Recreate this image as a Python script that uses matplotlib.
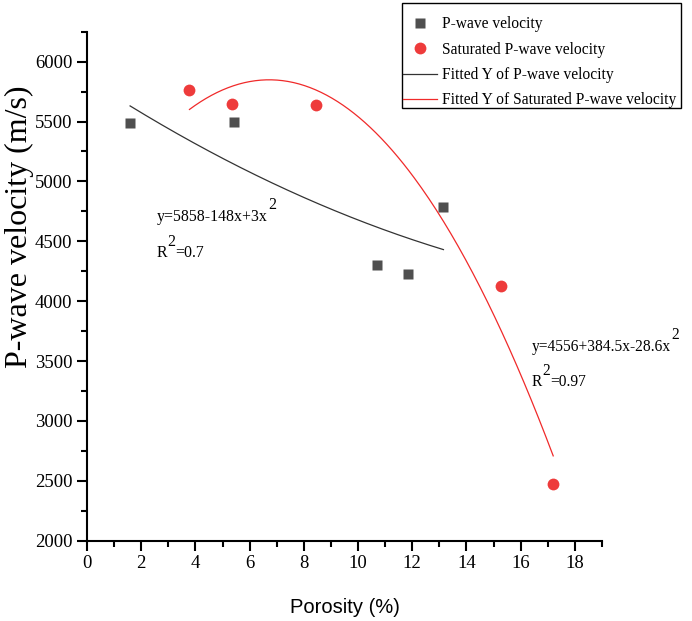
import matplotlib.pyplot as plt
from matplotlib import font_manager
from matplotlib.patches import Rectangle
import numpy as np

plt.rcParams['font.family'] = ['Liberation Serif', 'DejaVu Serif']

# measured points (porosity %, velocity m/s)
dry_x = [1.59, 5.42, 10.71, 11.83, 13.15]
dry_v = [5490, 5500, 4305, 4230, 4790]
sat_x = [3.78, 5.34, 8.44, 15.26, 17.2]
sat_v = [5760, 5650, 5640, 4125, 2475]

# fitted quadratic coefficients shown on the chart (c0, c1, c2)
dry_fit = [5858, -148, 3]
sat_fit = [4556, 384.5, -28.6]

labels = ["P-wave velocity", "Saturated P-wave velocity",
          "Fitted Y of P-wave velocity", "Fitted Y of Saturated P-wave velocity"]


def quad(c, x):
    return c[0] + c[1] * x + c[2] * x ** 2


def eq_label(ax, x, y, parts, size):
    # parts: list of (text, superscript?) drawn one after another
    prev = ax.text(x, y, parts[0][0], fontsize=size, va='baseline')
    base = prev
    for txt, sup in parts[1:]:
        off = (0.3, 8.5) if sup else (0, 0)
        prev = ax.annotate(txt, xy=(1, 0), xycoords=(prev, base), xytext=off,
                           textcoords='offset points', va='bottom', fontsize=size)


try:
    font_manager.findfont('Liberation Sans Narrow', fallback_to_default=False)
    xfam, xsize = 'Liberation Sans Narrow', 18
except ValueError:
    xfam, xsize = 'Liberation Sans', 14.5

fig = plt.figure(figsize=(6.92, 6.21), dpi=100)
ax = fig.add_axes([87 / 692, 80.3 / 621, 515 / 692, 509 / 621])

xs_dry = np.linspace(min(dry_x), max(dry_x), 200)
xs_sat = np.linspace(min(sat_x), max(sat_x), 200)

h1, = ax.plot(dry_x, dry_v, 's', color='#4f4f4f', ms=7.5, mec='none', label=labels[0])
h2, = ax.plot(sat_x, sat_v, 'o', color='#ee3b3b', ms=8.5, mec='none', label=labels[1])
h3, = ax.plot(xs_dry, quad(dry_fit, xs_dry), '-', color='#333333', lw=0.9, label=labels[2])
h4, = ax.plot(xs_sat, quad(sat_fit, xs_sat), '-', color='#f02a2a', lw=0.9, label=labels[3])

ax.set_xlim(0, 19)
ax.set_ylim(2000, 6250)
ax.set_xticks(np.arange(0, 19, 2))
ax.set_xticks(np.arange(1, 20, 2), minor=True)
ax.set_yticks(np.arange(2000, 6001, 500))
ax.set_yticks(np.arange(2250, 6251, 500), minor=True)

for s in ['top', 'right']:
    ax.spines[s].set_visible(False)
for s in ['left', 'bottom']:
    ax.spines[s].set_linewidth(1.5)
ax.tick_params(which='major', direction='out', length=7, width=1.5, labelsize=13.5)
ax.tick_params(which='minor', direction='out', length=4, width=1.5)

ax.set_xlabel("Porosity (%)", fontsize=xsize, family=[xfam, 'DejaVu Sans'])
ax.xaxis.set_label_coords(0.5, -0.112)
ax.set_ylabel("P-wave velocity (m/s)", fontsize=23)
ax.yaxis.set_label_coords(-0.102, 0.616)

eq_label(ax, 2.57, 4669, [("y=5858-148x+3x", False), ("2", True)], 11.4)
eq_label(ax, 2.57, 4366, [("R", False), ("2", True), ("=0.7", False)], 11.4)
eq_label(ax, 16.41, 3582, [("y=4556+384.5x-28.6x", False), ("2", True)], 11.2)
eq_label(ax, 16.41, 3289, [("R", False), ("2", True), ("=0.97", False)], 11.2)

leg = fig.legend(handles=[h1, h2, h3, h4], loc='upper left',
                 bbox_to_anchor=(403 / 692, 1 - 16.5 / 621), borderaxespad=0,
                 fontsize=11.2, frameon=False, handlelength=2.2,
                 handletextpad=0.3, labelspacing=0.6, borderpad=0)
fig.add_artist(Rectangle((402 / 692, 1 - 108 / 621), 279 / 692, 105 / 621,
                         transform=fig.transFigure, fill=False, ec='black', lw=1.0))

fig.savefig("out.png", dpi=100)
